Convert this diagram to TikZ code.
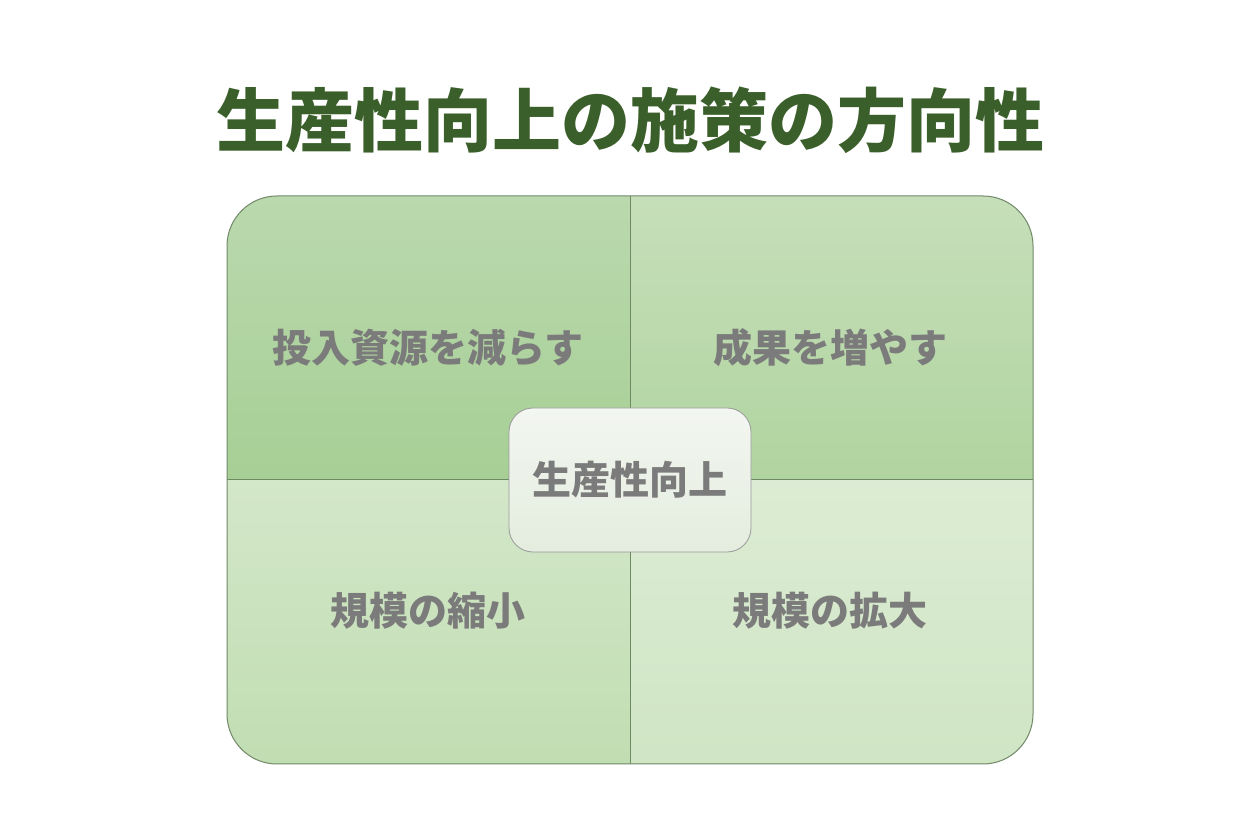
\documentclass[tikz,border=0pt]{standalone}
\usepackage{fontspec}
\newfontfamily\jp{Noto Sans CJK JP}
\definecolor{titlegreen}{HTML}{3B5F2B}
\definecolor{txtgray}{HTML}{7B7B7B}
\definecolor{edgegreen}{HTML}{6E8A63}
\definecolor{tlTop}{HTML}{BAD9AE}
\definecolor{tlBot}{HTML}{A7CF95}
\definecolor{trTop}{HTML}{C6DFBA}
\definecolor{trBot}{HTML}{B0D49F}
\definecolor{blTop}{HTML}{D3E7C9}
\definecolor{blBot}{HTML}{C1DDB2}
\definecolor{brTop}{HTML}{DCECD4}
\definecolor{brBot}{HTML}{CFE5C4}
\definecolor{ctrTop}{HTML}{F3F6F1}
\definecolor{ctrBot}{HTML}{E4EDDE}
\begin{document}
\begin{tikzpicture}[x=1pt,y=1pt,
  quadtext/.style={font=\jp\bfseries\fontsize{39}{45}\selectfont, text=txtgray, inner sep=0pt},
  titletext/.style={font=\jp\bfseries\fontsize{69}{80}\selectfont, text=titlegreen, inner sep=0pt}]
\useasboundingbox (0,0) rectangle (1260,840);
\fill[white] (0,0) rectangle (1260,840);
% title
\node[titletext] (title) at (630,720) {生産性向上の施策の方向性};
% quadrants
\begin{scope}
  \clip[rounded corners=50pt] (227,76) rectangle (1033,644);
  \shade[top color=tlTop, bottom color=tlBot] (227,360) rectangle (630,644);
  \shade[top color=trTop, bottom color=trBot] (630,360) rectangle (1033,644);
  \shade[top color=blTop, bottom color=blBot] (227,76) rectangle (630,360);
  \shade[top color=brTop, bottom color=brBot] (630,76) rectangle (1033,360);
\end{scope}
\coordinate (vt) at (630,644);
\coordinate (vb) at (630,76);
\coordinate (hl) at (227,360);
\coordinate (hr) at (1033,360);
\draw[edgegreen, line width=1pt] (vt) -- (vb);
\draw[edgegreen, line width=1pt] (hl) -- (hr);
\draw[edgegreen!80!gray, line width=1pt, rounded corners=50pt] (227,76) rectangle (1033,644);
% quadrant labels
\node[quadtext] (q1) at (428,492) {投入資源を減らす};
\node[quadtext] (q2) at (830,492) {成果を増やす};
\node[quadtext] (q3) at (428,229) {規模の縮小};
\node[quadtext] (q4) at (830,229) {規模の拡大};
% center
\shade[top color=ctrTop, bottom color=ctrBot, rounded corners=24pt] (509,288) rectangle (751,432);
\draw[gray!80, line width=0.8pt, rounded corners=24pt] (509,288) rectangle (751,432);
\node[quadtext] (ctr) at (630,360) {生産性向上};
\end{tikzpicture}
\end{document}
